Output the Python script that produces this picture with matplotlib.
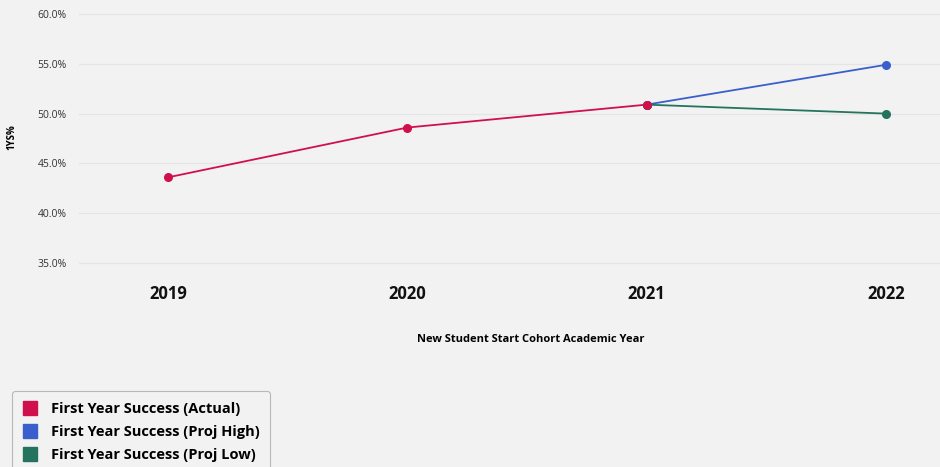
import matplotlib.pyplot as plt
from matplotlib.lines import Line2D

# first year success rate by cohort, with projections for 2022
years = ['2019', '2020', '2021', '2022']
actual = [43.6, 48.6, 50.9]
proj_high = [50.9, 54.9]
proj_low = [50.9, 50.0]
yticks = [35, 40, 45, 50, 55, 60]

series_names = ['First Year Success (Actual)',
                'First Year Success (Proj High)',
                'First Year Success (Proj Low)']
colors = ['#D0104C', '#3A5FCD', '#24735E']

bg = '#F2F2F2'
plt.rcParams['font.family'] = ['Open Sans', 'DejaVu Sans']

# y: 60% sits at 14 px, 35% at 263 px from the top
px_per_pt = (263 - 14) / 25
ymin, ymax = 34.6, 60.2
top_px = 14 - (ymax - 60) * px_per_pt
bot_px = 263 + (35 - ymin) * px_per_pt

fig = plt.figure(figsize=(9.4, 4.67), dpi=100, facecolor=bg)
ax = fig.add_axes([79 / 940, 1 - bot_px / 467, (940 - 79) / 940, (bot_px - top_px) / 467])
ax.set_facecolor(bg)

xs = list(range(len(years)))
ax.plot(xs[2:], proj_high, color=colors[1], lw=1.3, marker='o', ms=5.5, zorder=3)
ax.plot(xs[2:], proj_low, color=colors[2], lw=1.3, marker='o', ms=5.5, zorder=3)
ax.plot(xs[:3], actual, color=colors[0], lw=1.3, marker='o', ms=5.5, zorder=4)

ax.set_ylim(ymin, ymax)
ax.set_xlim(-0.372, 3.226)
ax.set_yticks(yticks)
ax.set_yticklabels([f'{v:.1f}%' for v in yticks], fontsize=7.5, color='#333333')
ax.set_xticks(xs)
ax.set_xticklabels(years, fontsize=12, fontweight='bold', color='#111111')
ax.tick_params(axis='both', length=0)
ax.tick_params(axis='x', pad=13)
ax.tick_params(axis='y', pad=9)
ax.grid(axis='y', color='#E4E4E4', lw=0.9)
ax.set_axisbelow(True)
for s in ax.spines.values():
    s.set_visible(False)

fig.text(12 / 940, 1 - 137 / 467, '1YS%', rotation=90, fontsize=7,
         fontweight='bold', ha='center', va='center')
fig.text(531 / 940, 1 - 339 / 467, 'New Student Start Cohort Academic Year',
         fontsize=8, fontweight='bold', ha='center', va='center')

handles = [Line2D([], [], ls='none', marker='s', ms=10, color=c) for c in colors]
leg = fig.legend(handles, series_names, loc='upper left',
                 bbox_to_anchor=(12 / 940, 1 - 391 / 467),
                 prop={'size': 10.5, 'weight': 'bold'}, frameon=True,
                 fancybox=True, edgecolor='#AAAAAA', facecolor=bg,
                 handlelength=1.0, handletextpad=0.9, labelspacing=0.62,
                 borderpad=0.75, borderaxespad=0)
leg.get_frame().set_linewidth(0.8)

fig.savefig('out.png', dpi=100, facecolor=bg)
